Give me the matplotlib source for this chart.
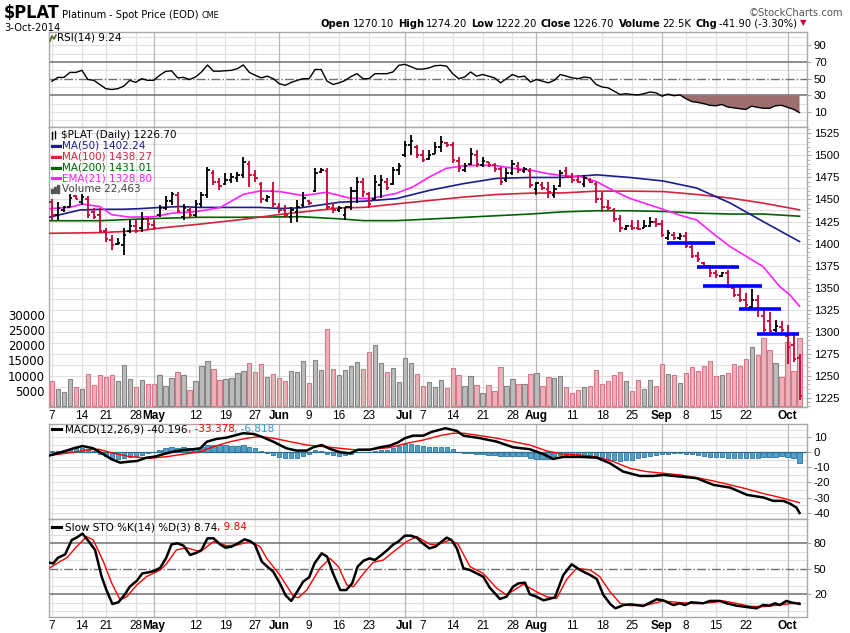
import numpy as np
import matplotlib
matplotlib.use("Agg")
import matplotlib.pyplot as plt
from matplotlib.collections import LineCollection

W_PX, H_PX = 850, 633

# ---------------- data ----------------
# trading days 7-Apr-2014 .. 3-Oct-2014, index 0..125
tick_idx = [0, 5, 9, 14, 17, 24, 29, 34, 38, 43, 48, 53, 59, 62, 67, 72, 77,
            81, 87, 92, 97, 102, 106, 111, 116, 123]
tick_lbl = ['7', '14', '21', '28', 'May', '12', '19', '27', 'Jun', '9', '16',
            '23', 'Jul', '7', '14', '21', '28', 'Aug', '11', '18', '25', 'Sep',
            '8', '15', '22', 'Oct']
months = ['May', 'Jun', 'Jul', 'Aug', 'Sep', 'Oct']

prior_close = 1447.0
opens = [1447, 1432, 1438, 1442, 1454, 1447, 1450, 1436, 1432, 1414,
         1404, 1399, 1398, 1414, 1420, 1418, 1428, 1421, 1432, 1440,
         1448, 1455, 1430, 1438, 1432, 1445, 1455, 1480, 1470, 1468,
         1472, 1474, 1478, 1490, 1478, 1468, 1449, 1460, 1442, 1438,
         1430, 1436, 1444, 1448, 1460, 1481, 1482, 1440, 1438, 1432,
         1442, 1460, 1470, 1456, 1450, 1466, 1470, 1468, 1484, 1500,
         1512, 1510, 1500, 1496, 1502, 1510, 1514, 1512, 1494, 1484,
         1490, 1500, 1489, 1492, 1489, 1485, 1472, 1480, 1488, 1482,
         1482, 1462, 1466, 1462, 1455, 1465, 1482, 1475, 1472, 1468,
         1472, 1468, 1450, 1442, 1438, 1428, 1417, 1420, 1418, 1418,
         1420, 1425, 1422, 1406, 1410, 1406, 1408, 1396, 1386, 1378,
         1374, 1366, 1363, 1366, 1350, 1342, 1336, 1328, 1336, 1318,
         1312, 1302, 1305, 1295, 1285, 1270.1]
highs = [1450.5, 1447.5, 1442.6, 1456.2, 1455.1, 1456, 1453.9, 1440, 1440, 1417.3,
         1409.7, 1405.9, 1417.3, 1426.7, 1426.7, 1436.1, 1430.5, 1426.7, 1443.7, 1453.9,
         1458.8, 1458, 1445, 1440, 1449.4, 1458.8, 1487.2, 1483.4, 1474, 1479.6,
         1479.6, 1481.5, 1497.9, 1493.2, 1483.4, 1470.2, 1455.1, 1470.2, 1445.6, 1443.7,
         1441.8, 1449.4, 1458.8, 1449.4, 1485.3, 1485.3, 1485.3, 1445.6, 1442.6, 1441.8,
         1464.5, 1475.9, 1474, 1458.8, 1477.7, 1477.7, 1474, 1487.2, 1491, 1516,
         1523, 1512, 1506, 1506, 1515.4, 1522.2, 1515.4, 1515.4, 1498.5, 1491,
         1508, 1506, 1498.5, 1493, 1491, 1487, 1485.3, 1494.6, 1492.8, 1487,
         1486, 1470.2, 1470.2, 1470.2, 1466.4, 1483.4, 1487, 1479.6, 1477.7, 1477.7,
         1474, 1470.2, 1458.8, 1449.4, 1440, 1432.4, 1421, 1426.7, 1426.7, 1426.7,
         1430.5, 1428.6, 1426.7, 1415.4, 1413.5, 1411.6, 1413.5, 1398.3, 1390.7, 1379.4,
         1375.6, 1370, 1368, 1370, 1352.9, 1352.9, 1343.5, 1348.4, 1341.6, 1326,
         1322, 1313, 1312, 1307, 1296, 1274.2]
lows = [1426.7, 1426.7, 1436.1, 1441.1, 1450.5, 1444, 1428.6, 1428, 1411.6, 1402.1,
        1392.7, 1398.3, 1387, 1411.6, 1411.6, 1413.5, 1415.4, 1415.4, 1430.5, 1438,
        1443.7, 1435, 1427, 1430, 1430.5, 1441.8, 1451.3, 1466.4, 1460.7, 1466.4,
        1468.3, 1470.2, 1474, 1464.5, 1470.2, 1445.6, 1447.5, 1441.8, 1435, 1428.6,
        1422.9, 1424.8, 1441.8, 1443.7, 1458.8, 1479.6, 1438, 1434.6, 1436.1, 1426.7,
        1438, 1445.6, 1453.2, 1440, 1449.4, 1451.3, 1460.7, 1466, 1477.7, 1498,
        1500, 1497, 1493, 1495, 1502, 1504, 1509.7, 1491, 1481.5, 1481.5,
        1489, 1487.2, 1487, 1487, 1481.5, 1466.4, 1470.2, 1477.7, 1479.6, 1479.6,
        1462.6, 1455.1, 1460.7, 1451.3, 1451.3, 1464.5, 1474, 1468.3, 1468.3, 1464.5,
        1468.3, 1445.6, 1436.1, 1438, 1424.8, 1413.5, 1415.4, 1415.4, 1415.4, 1417.3,
        1419.2, 1419.2, 1407.8, 1404, 1404, 1404, 1394.6, 1383.2, 1379.4, 1373.7,
        1362.4, 1360.5, 1362.4, 1349.2, 1339.6, 1334, 1325.4, 1326.5, 1317, 1298,
        1300, 1300, 1300, 1263, 1265, 1222.2]
closes = [1432, 1440, 1441, 1452, 1451, 1453, 1432, 1430, 1414, 1405,
          1398, 1401, 1410, 1420, 1414, 1428, 1422, 1418, 1440, 1448,
          1456, 1437, 1440, 1432, 1445, 1455, 1484, 1470, 1465, 1472,
          1475, 1478, 1492, 1478, 1474, 1450, 1453, 1445, 1438, 1432,
          1438, 1442, 1452, 1446, 1480, 1483, 1442, 1438, 1440, 1441,
          1460, 1470, 1458, 1445, 1470, 1472, 1463, 1484, 1488, 1512,
          1516, 1500, 1495, 1500, 1510, 1515, 1512, 1495, 1486, 1488,
          1502, 1490, 1494, 1489, 1485, 1470, 1480, 1490, 1484, 1485,
          1466, 1469, 1463, 1458, 1462, 1480, 1476, 1472, 1470, 1474,
          1470, 1450, 1442, 1440, 1428, 1418, 1420, 1418, 1416, 1420,
          1424, 1422, 1410, 1412, 1406, 1409, 1397, 1386, 1382, 1375,
          1366, 1364, 1366, 1352, 1342, 1336, 1330, 1336, 1326, 1302,
          1300.5, 1306, 1302, 1282, 1268.6, 1226.7]
volume = [8100, 5450, 4680, 8770, 6340, 5450, 10420, 6780, 10090, 9430,
          10090, 8100, 13400, 8770, 6120, 8430, 7100, 7100, 10090, 6450,
          9100, 11080, 10090, 5120, 8100, 13070, 14730, 12080, 8430, 8770,
          9100, 10750, 11420, 14070, 11080, 13730, 9430, 10420, 9100, 8100,
          11420, 11080, 14730, 7440, 15060, 11750, 25340, 12080, 10090, 11750,
          13070, 14400, 12080, 17710, 20030, 14070, 11080, 12410, 7770, 15720,
          14070, 10420, 6450, 7770, 6120, 8430, 5750, 12400, 10090, 6450,
          9760, 6780, 4130, 6780, 4790, 12740, 6450, 8770, 7100, 7100,
          10420, 10750, 6450, 9430, 9100, 9760, 6120, 4130, 5120, 6120,
          6450, 11750, 7100, 8100, 10090, 11080, 8100, 4790, 8430, 5450,
          8430, 6450, 13730, 10420, 10090, 7440, 10750, 12740, 11420, 13070,
          14730, 9760, 10090, 10750, 13730, 13070, 15390, 19360, 16710, 22350,
          18380, 14070, 9430, 21130, 11420, 22463]

ma50_x = [-0.5, 4.7, 8, 11.9, 14.7, 18.1, 21.4, 24.7, 28.1, 31.4, 34.8, 38.1, 41.5,
          44.8, 48.2, 52.1, 57.6, 63.2, 68.8, 74.4, 80, 85.5, 91.1, 96.6, 102.2,
          107.8, 113.4, 118.9, 125]
ma50_y = [1429.8, 1438.1, 1438.8, 1438.9, 1439.6, 1441, 1442, 1441, 1441, 1441, 1441,
          1439.8, 1440.5, 1443.7, 1447, 1448, 1451, 1460.5, 1468, 1474, 1475, 1475,
          1478, 1475, 1471, 1463, 1446, 1425, 1402.24]
ma100_x = [-0.5, 8, 14.7, 18.1, 24.7, 31.4, 34.8, 38.1, 41.5, 44.8, 48.2, 52.1, 57.6,
           63.2, 68.8, 74.4, 80, 85.5, 91.1, 96.6, 102.2, 107.8, 113.4, 118.9, 125]
ma100_y = [1411.6, 1412.4, 1414.6, 1417.6, 1422, 1427, 1430, 1433, 1435.6, 1438,
           1440.5, 1441, 1445, 1448.9, 1452.7, 1455.7, 1457.2, 1457.5, 1459.5, 1459.5,
           1459, 1455.7, 1451.6, 1445.9, 1438.27]
ma200_x = [-0.5, 8, 14.7, 18.1, 24.7, 31.4, 41.5, 48.2, 52.1, 57.6, 63.2, 68.8, 74.4,
           80, 85.5, 91.1, 96.6, 102.2, 107.8, 113.4, 118.9, 125]
ma200_y = [1425.9, 1425.9, 1427.8, 1428.6, 1429.8, 1429.8, 1430.5, 1428, 1426, 1426,
           1427.8, 1429.7, 1431.6, 1433.5, 1436, 1437.2, 1437.2, 1436.4, 1434.5,
           1433.5, 1433.5, 1431.01]
ema21_x = [-0.5, 3, 5, 8, 10, 13, 17, 20, 24.2, 28.1, 32, 34.8, 38.1, 42, 45.9, 49.8,
           53.1, 57.6, 60.4, 63.2, 65.9, 68.8, 71.6, 74.4, 77.2, 80, 82.7, 85.5, 88.3,
           91.1, 93.9, 96.6, 102.2, 104.9, 107.8, 110.5, 113.4, 116.2, 118.9, 121.7,
           123.4, 125]
ema21_y = [1439.6, 1441, 1444.8, 1442, 1432.7, 1430, 1430.4, 1434.4, 1436.3, 1440.8,
           1455.9, 1459.7, 1459, 1454.4, 1458.2, 1451.6, 1451, 1457, 1464.5, 1475.9,
           1485.3, 1488.3, 1489, 1488.3, 1485.3, 1483.4, 1479.6, 1477, 1476, 1470.2,
           1460, 1451.3, 1438.8, 1432.4, 1426.7, 1411.6, 1396.5, 1385, 1373.8, 1351,
           1341.6, 1328.8]

# hand-drawn support lines
lvl_price = [1400.9, 1373.7, 1352.1, 1325.7, 1297.6]
lvl_start = [102.9, 107.8, 108.9, 114.9, 117.9]
lvl_end = [110.9, 114.8, 118.8, 121.9, 124.9]

rsi = [47, 51.5, 51.5, 57.5, 57.5, 60, 49, 48, 43, 38,
       37, 38, 41, 48, 45.5, 50, 48, 48, 54, 58.7,
       59.5, 51, 51.5, 49, 52, 58, 66.4, 59, 59, 59.5,
       60, 62, 66.4, 57.5, 54, 51, 53, 50, 44, 42,
       45.5, 48, 50, 50, 61, 61, 47, 43, 45, 47.8,
       52.5, 56, 50, 50, 55.9, 56, 56, 58, 66, 67.2,
       64.5, 61.5, 61.5, 62.8, 65.5, 66, 65, 56, 50, 52,
       58, 53, 55, 53, 51, 45, 50, 55, 52, 53,
       46, 49, 47, 45, 48, 55, 53, 51, 50, 52,
       51, 43, 40, 39, 35, 31, 32, 31, 30.5, 32,
       34, 33, 29, 31.5, 29.5, 30.5, 26, 22.5, 21.5, 20,
       18, 17.5, 19, 16, 15, 14, 13, 17, 15.6, 14.4,
       14.5, 17.5, 18, 15.6, 13.2, 9.24]

macd_x = [-0.5, 1.9, 3.6, 5.1, 6.9, 8.6, 10, 11.4, 13, 14.2, 15.8, 17.2, 18.6, 20.3,
          22, 23.6, 24.8, 25.9, 27.5, 29.2, 30.9, 32, 33.7, 35.3, 37, 39.2, 40.9,
          42.6, 43.7, 45.1, 46.5, 48.2, 49.8, 51.2, 53.2, 54.9, 56.5, 57.9, 59,
          60.4, 62.1, 63.5, 65.8, 67.7, 68.8, 71.6, 74.4, 77.1, 79.9, 82.2, 83.8,
          85.5, 88.3, 91.1, 93.3, 95.5, 98.3, 100.5, 102.2, 105, 107.8, 110.6,
          113.4, 116.2, 119, 120.6, 122.3, 123.4, 124.5, 125]
macd_y = [-2.2, 0.4, 2.6, 4.1, 2.6, -1.3, -4.7, -6.9, -6.2, -5.8, -3.6, -2.9, -1.3,
          0.4, 1.5, 2.0, 2.6, 7.0, 8.8, 9.7, 11.5, 12.6, 12.1, 9.9, 7.0, 2.6, 1.1,
          1.1, 3.3, 4.8, 2.2, 0, -0.7, 1.7, 1.7, 3.3, 4.4, 6.6, 9.3, 11.0, 11.0,
          13.5, 15.9, 14.1, 11.0, 9.3, 7.0, 3.3, 2.0, -1.3, -4.4, -3.1, -3.1, -3.6,
          -7.3, -12.8, -15.7, -15.7, -15.0, -16.1, -17.2, -21.6, -23.4, -28.2,
          -30.0, -32.2, -32.2, -34.0, -36.7, -40.2]
sig_x = [-0.5, 3.6, 5.8, 7.8, 10.3, 13, 16.4, 19.2, 22, 24.8, 27, 29.8, 32.6, 34.8,
         37, 39.8, 42.6, 45.4, 48.2, 51, 53.7, 56.5, 59.3, 62.1, 64.9, 67.1, 68.8,
         71.6, 74.4, 77.1, 79.9, 82.7, 85.5, 88.3, 91.1, 93.9, 96.6, 99.4, 102.2,
         105, 107.8, 110.6, 113.4, 116.2, 119, 121.8, 125]
sig_y = [-2.2, 0, 1.5, 2.0, -0.7, -2.9, -4.0, -2.9, -1.3, 0.4, 3.7, 7.0, 9.3, 10.4,
         9.3, 7.0, 4.8, 3.7, 2.6, 1.5, 2.0, 3.1, 5.9, 8.1, 11.0, 12.6, 12.6, 11.0,
         9.3, 7.0, 4.8, 0.9, -1.3, -1.8, -3.1, -6.2, -10.6, -12.8, -13.9, -15.0,
         -16.8, -19.0, -21.6, -24.3, -27.4, -30.0, -33.4]
hist = [0.5, 1.0, 1.6, 2.4, 3.0, 3.0, 2.2, 0.6, -1.2, -2.6,
        -3.6, -4.4, -4.0, -3.4, -2.6, -1.6, -0.6, 0.3, 1.2, 2.6,
        3.6, 3.0, 3.2, 3.0, 2.6, 3.4, 4.8, 4.8, 4.6, 4.6,
        4.2, 4.4, 4.6, 3.6, 2.6, 0.6, -0.8, -2.0, -3.0, -3.8,
        -3.8, -3.5, -2.6, -1.2, 1.6, 0.6, -1.0, -2.0, -2.4, -2.0,
        -1.2, 0.2, 0.4, 0.3, 1.0, 1.4, 1.8, 2.6, 4.0, 5.4,
        5.6, 4.6, 4.0, 3.8, 3.8, 3.8, 3.2, 2.0, 0.4, -0.4,
        -0.7, -1.0, -1.2, -1.5, -1.8, -2.2, -2.4, -2.4, -2.4, -2.6,
        -3.6, -4.2, -4.4, -4.4, -2.2, -1.6, -1.5, -1.5, -1.6, -1.8,
        -2.0, -2.2, -3.2, -4.4, -5.0, -5.5, -5.4, -5.0, -4.0, -3.0,
        -2.4, -1.6, -1.2, -1.0, -0.8, -0.8, -1.0, -1.4, -2.0, -2.8,
        -3.2, -3.4, -3.4, -3.5, -3.6, -3.6, -3.8, -3.8, -3.6, -3.4,
        -3.2, -3.0, -2.8, -3.2, -3.6, -6.8]

stok_x = [-0.5, 0.2, 1, 2.2, 3.3, 4.1, 5.1, 6.1, 7.2, 8.3, 9.1, 10.1, 11.1, 12.2, 13,
          14.2, 15.1, 16.1, 17.1, 18.1, 19.1, 20, 21, 22, 23.1, 24.2, 25, 26, 27,
          28.1, 29, 30, 31.1, 32.2, 33.1, 33.9, 35.1, 36, 37, 38.1, 39.1, 40, 41,
          42, 43, 43.9, 45.1, 46, 47, 48.2, 49.2, 50.2, 51.1, 52.1, 53.1, 54, 55.1,
          56.1, 57.1, 57.9, 59, 60, 61, 62, 63.1, 64.1, 66, 66.8, 67.7, 68.8,
          69.9, 72.1, 73.2, 74.9, 76, 77.1, 78, 79.1, 79.9, 81, 82.2, 84.1, 85.5,
          86.9, 88.3, 90, 91.1, 92.2, 93.4, 94.2, 95.6, 96.7, 98.9, 101.1, 102.2,
          103.9, 105, 105.8, 106.9, 108.9, 110, 111.7, 112.8, 114.4, 116.1, 117.8,
          118.9, 120, 120.9, 121.7, 122.8, 123.7, 125]
stok_y = [57.2, 56.4, 63, 67, 83.9, 86.7, 91.4, 82.7, 72.2, 40.8, 25.1, 8.6, 10.6,
          20, 29, 36, 44.6, 45.8, 47.4, 51.3, 63, 78.8, 80, 77.2, 66.3, 69, 72.2,
          85.9, 85.9, 78.8, 74.8, 76, 80, 84.7, 82.7, 78.8, 58.4, 52.5, 46.6, 32.9,
          18.4, 12.2, 23.1, 34.9, 40, 56.4, 68.2, 64.3, 44.6, 25, 25, 32.9, 52.5,
          59.5, 62.3, 60.3, 66.3, 72.2, 78.8, 82, 89, 89, 86.7, 80, 74.1, 76, 86.7,
          83.9, 74.1, 50.6, 48.6, 40.8, 27.8, 14.5, 17.2, 29, 32.9, 33.7, 20, 17.2,
          12.9, 16.4, 42.7, 55.3, 48.6, 42.7, 38, 19.2, 8.2, 3.5, 7.4, 8.2, 6.3,
          14.1, 12.9, 7.4, 9.4, 7.4, 10.6, 9.4, 12.2, 12.2, 9.4, 6.7, 5.1, 3.5,
          7.4, 6.7, 9.4, 7.4, 12.2, 10.2, 8.74]
stod_x = [-0.5, 1.3, 2.5, 4.1, 5.8, 6.9, 8.6, 10, 11.4, 12.5, 14.2, 15.8, 18.1, 19.2,
          20.8, 22.5, 24.8, 27, 29.2, 30.9, 33.1, 34.8, 35.9, 38.1, 40.4, 41.2,
          42.6, 44.8, 46.5, 47.9, 49.3, 50.4, 52.1, 53.7, 55.4, 57.1, 59.3, 61,
          63.2, 64.3, 66.6, 67.9, 69.9, 72.1, 74.4, 76, 78.8, 81, 82.7, 84.4, 86,
          87.7, 90, 91.6, 93.3, 95, 96.7, 99.5, 102.2, 105, 107.8, 110.6, 112.3,
          114.4, 116.7, 118.9, 121.7, 123.4, 125]
stod_y = [50.6, 58.4, 63, 76, 87.9, 84, 58.4, 32.9, 13.3, 17.2, 31, 40.8, 48.6, 56.4,
          72.2, 74.8, 70.1, 82, 77.2, 78, 82, 76, 62.3, 42.7, 17.2, 16, 25, 50.6,
          62.3, 52.5, 31, 29, 44.6, 57.6, 60.3, 70.1, 82, 87.9, 78.8, 78, 84, 78.8,
          52.5, 44.6, 27, 19.2, 31.8, 23.1, 17.2, 15.3, 36.9, 50.6, 48.6, 40.8,
          23.1, 9.4, 6.7, 7.4, 12.2, 10.2, 9, 10.6, 12.2, 9.4, 5.9, 5.5, 7.4, 9,
          9.84]

vol_ticks = [5000, 10000, 15000, 20000, 25000, 30000]

# ---------------- styling ----------------
RED = '#cc0033'
GRID = '#e0e0e0'
MONTH_GRID = '#b8b8b8'
EDGE = '#a8a8a8'
TICKFONT = 'Liberation Sans'
LBLFONT = 'DejaVu Sans'

fig = plt.figure(figsize=(8.5, 6.33), dpi=100)
fig.patch.set_facecolor('white')

X0, X1 = 49, 807
XLIM = (-0.5, 126.25)


def panel(top, bottom):
    return fig.add_axes([X0 / W_PX, 1 - bottom / H_PX, (X1 - X0) / W_PX,
                         (bottom - top) / H_PX])


def fpos(x, y):
    return x / W_PX, 1 - y / H_PX


def base_style(ax, ylim, ticks, grid_vals, minor=None):
    ax.set_xlim(*XLIM)
    ax.set_ylim(*ylim)
    for s in ax.spines.values():
        s.set_color(EDGE)
        s.set_linewidth(1.0)
    for g in grid_vals:
        ax.axhline(g, color=GRID, lw=0.8, zorder=0)
    for i, lb in zip(tick_idx, tick_lbl):
        ax.axvline(i, color=MONTH_GRID if lb in months else GRID,
                   lw=0.9, zorder=0)
    ax.yaxis.tick_right()
    ax.set_yticks(ticks)
    ax.set_yticklabels([str(t) for t in ticks], fontsize=8.2, family=TICKFONT)
    if minor is not None:
        ax.set_yticks(minor, minor=True)
    ax.tick_params(axis='y', which='major', direction='out', length=3,
                   color=EDGE, pad=2)
    ax.tick_params(axis='y', which='minor', direction='out', length=2,
                   color=EDGE)
    ax.set_xticks([])


def date_labels(ax):
    ax.set_xticks(tick_idx)
    ax.set_xticklabels(tick_lbl, fontsize=8.5, family=TICKFONT)
    for t in ax.get_xticklabels():
        if t.get_text() in months:
            t.set_fontweight('bold')
    ax.tick_params(axis='x', length=0, pad=2)


renderer = fig.canvas.get_renderer()


def runs(x, y, parts, size, family, va='center', stretch='normal'):
    """draw text pieces one after the other, return them and the end x"""
    made = []
    for s, color, weight, gap in parts:
        t = fig.text(*fpos(x, y), s, color=color, fontsize=size,
                     fontweight=weight, family=family, va=va, ha='left',
                     fontstretch=stretch)
        x += t.get_window_extent(renderer=renderer).width + gap
        made.append(t)
    return made, x


def dash(x, y, color, w=8, lw=2.2):
    fig.add_artist(plt.Line2D([x / W_PX, (x + w) / W_PX],
                              [1 - y / H_PX, 1 - y / H_PX],
                              color=color, lw=lw, transform=fig.transFigure))


xi = np.arange(len(closes))

# ---------------- RSI ----------------
ax_rsi = panel(32, 127)
base_style(ax_rsi, (-8, 106), [10, 30, 50, 70, 90],
           [0, 10, 20, 40, 60, 80, 90, 100])
r = np.array(rsi)
ax_rsi.axhline(70, color='#707070', lw=1.1, zorder=1)
ax_rsi.axhline(30, color='#707070', lw=1.1, zorder=1)
ax_rsi.axhline(50, color='#707070', lw=1.0, ls='-.', zorder=1)
ax_rsi.fill_between(xi, r, 30, where=r <= 30, interpolate=True,
                    color='#9c6e6e', lw=0, zorder=2)
ax_rsi.plot(xi, r, color='black', lw=1.0, zorder=3)

# ---------------- price + volume ----------------
ax_pg = panel(127, 407)
base_style(ax_pg, (1214.4, 1532.3), list(range(1225, 1526, 25)),
           np.arange(1225, 1532, 12.5), minor=np.arange(1215, 1531, 5))
date_labels(ax_pg)

ax_vol = panel(127, 407)
ax_vol.patch.set_alpha(0)
ax_vol.set_xlim(*XLIM)
ax_vol.set_ylim(-400, 92300)
for s in ax_vol.spines.values():
    s.set_visible(False)
ax_vol.set_xticks([])
ax_vol.set_yticks(vol_ticks)
ax_vol.set_yticklabels([str(v) for v in vol_ticks], fontsize=8.5,
                       family='DejaVu Sans')
ax_vol.tick_params(axis='y', length=0, pad=3)

prev = [prior_close] + closes[:-1]
down = [c < p for c, p in zip(closes, prev)]
ax_vol.bar(xi, volume, width=0.72,
           color=['#e8b4bb' if d else '#bcbcbc' for d in down],
           edgecolor=['#d47a86' if d else '#858585' for d in down],
           linewidth=0.8, zorder=2)

ax_px = panel(127, 407)
ax_px.patch.set_alpha(0)
ax_px.set_xlim(*XLIM)
ax_px.set_ylim(1214.4, 1532.3)
ax_px.axis('off')

ax_px.plot(ma200_x, ma200_y, color='#006400', lw=1.2, zorder=3)
ax_px.plot(ma100_x, ma100_y, color='#d8223f', lw=1.2, zorder=3)
ax_px.plot(ma50_x, ma50_y, color='#1c1c8c', lw=1.2, zorder=3)
ax_px.plot(ema21_x, ema21_y, color='#ff22ff', lw=1.2, zorder=3)

segs, cols = [], []
for i in xi:
    c = RED if down[i] else 'black'
    segs += [[(i, lows[i]), (i, highs[i])],
             [(i - 0.42, opens[i]), (i, opens[i])],
             [(i, closes[i]), (i + 0.42, closes[i])]]
    cols += [c, c, c]
ax_px.add_collection(LineCollection(segs, colors=cols, linewidths=1.3,
                                    zorder=4))
ax_px.hlines(lvl_price, lvl_start, lvl_end, color='#0000ff', lw=2.6,
             zorder=5)

# ---------------- MACD ----------------
ax_macd = panel(424, 519)
base_style(ax_macd, (-44.2, 18.7), [10, 0, -10, -20, -30, -40],
           np.arange(-40, 16, 5))
ax_macd.bar(xi, hist, width=0.72, color='#53a0c8', edgecolor='#2b73a0',
            linewidth=0.6, zorder=2)
ax_macd.axhline(0, color='#2b6f90', lw=0.9, zorder=2)
ax_macd.plot(sig_x, sig_y, color='#ff0000', lw=1.0, zorder=3)
ax_macd.plot(macd_x, macd_y, color='black', lw=1.8, zorder=4)

# ---------------- Slow STO ----------------
ax_sto = panel(519, 617)
base_style(ax_sto, (-6.7, 108.6), [20, 50, 80],
           [0, 10, 30, 40, 60, 70, 90, 100])
date_labels(ax_sto)
ax_sto.axhline(80, color='#707070', lw=1.1, zorder=1)
ax_sto.axhline(20, color='#707070', lw=1.1, zorder=1)
ax_sto.axhline(50, color='#707070', lw=1.0, ls='-.', zorder=1)
ax_sto.plot(stod_x, stod_y, color='#ff0000', lw=1.0, zorder=3)
ax_sto.plot(stok_x, stok_y, color='black', lw=1.8, zorder=4)

# ---------------- header ----------------
HDR = 'DejaVu Sans'
COND = 'condensed'
made, x = runs(4, 18, [('$PLAT', 'black', 'bold', 2)], 13, HDR,
               va='baseline', stretch=COND)
made, x = runs(x, 18, [('Platinum', 'black', 'normal', 3),
                       ('- Spot Price (EOD)', 'black', 'normal', 3)],
               8, HDR, va='baseline', stretch=COND)
runs(x, 18, [('CME', 'black', 'normal', 0)], 6.5, HDR, va='baseline',
     stretch=COND)
fig.text(*fpos(4, 31), '3-Oct-2014', fontsize=8, family=HDR,
         fontstretch=COND, va='baseline')
fig.text(*fpos(843, 16), '\u00a9StockCharts.com', fontsize=8, family=HDR,
         fontstretch=COND, color='#555555', va='baseline', ha='right')

ohlc = [('Open', 'black', 'bold', 2), ('1270.10', 'black', 'normal', 4),
        ('High', 'black', 'bold', 2), ('1274.20', 'black', 'normal', 4),
        ('Low', 'black', 'bold', 2), ('1222.20', 'black', 'normal', 4),
        ('Close', 'black', 'bold', 2), ('1226.70', 'black', 'normal', 4),
        ('Volume', 'black', 'bold', 2), ('22.5K', 'black', 'normal', 4),
        ('Chg', 'black', 'bold', 2), ('-41.90 (-3.30%)', 'black', 'normal', 0)]
made, end = runs(0, 27, ohlc, 8, HDR, va='baseline', stretch=COND)
shift = 797 - end
for t in made:
    x, y = t.get_position()
    t.set_position((x + shift / W_PX, y))
fig.text(*fpos(803, 23), '\u25bc', color=RED, fontsize=6, va='center',
         ha='center', family='DejaVu Sans')

# ---------------- panel legends ----------------
LS = 7.5
# RSI
fig.add_artist(plt.Line2D(np.array([50, 52, 54, 56]) / W_PX,
                          1 - np.array([41, 36, 39, 35]) / H_PX,
                          color='#556b2f', lw=1.2, transform=fig.transFigure))
fig.text(*fpos(57, 37), 'RSI(14) 9.24', fontsize=LS, family=LBLFONT,
         va='center')

# price legend
for x0, y0, y1 in [(52, 132, 139), (55, 131, 138)]:
    fig.add_artist(plt.Line2D([x0 / W_PX, x0 / W_PX],
                              [1 - y0 / H_PX, 1 - y1 / H_PX], color='black',
                              lw=1, transform=fig.transFigure))
fig.text(*fpos(61, 135), '$PLAT (Daily) 1226.70', fontsize=LS,
         family=LBLFONT, va='center')
leg = [('MA(50) 1402.24', '#1c1c8c'), ('MA(100) 1438.27', '#d8223f'),
       ('MA(200) 1431.01', '#006400'), ('EMA(21) 1328.80', '#ff22ff')]
for k, (s, c) in enumerate(leg):
    y = 146 + 10.8 * k
    dash(52, y, c)
    fig.text(*fpos(62, y), s, color=c, fontsize=LS, family=LBLFONT,
             va='center')
for k, h in enumerate([4, 6, 8]):
    fig.add_artist(plt.Rectangle(((51 + 3 * k) / W_PX, (633 - 193) / H_PX),
                                 2 / W_PX, h / H_PX, color='#555555',
                                 transform=fig.transFigure))
fig.text(*fpos(62, 189), 'Volume 22,463', color='#444444', fontsize=LS,
         family=LBLFONT, va='center')

# MACD
dash(52, 429, 'black', w=9)
runs(65, 429, [('MACD(12,26,9) -40.196', 'black', 'normal', 0),
               (', -33.378', '#ff0000', 'normal', 0),
               (', -6.818', '#3399cc', 'normal', 0)], LS, LBLFONT)
# STO
dash(52, 527, 'black', w=9)
runs(65, 527, [('Slow STO %K(14) %D(3) 8.74', 'black', 'normal', 0),
               (', 9.84', '#ff0000', 'normal', 0)], LS, LBLFONT)

fig.savefig('out.png', dpi=100, facecolor='white')
